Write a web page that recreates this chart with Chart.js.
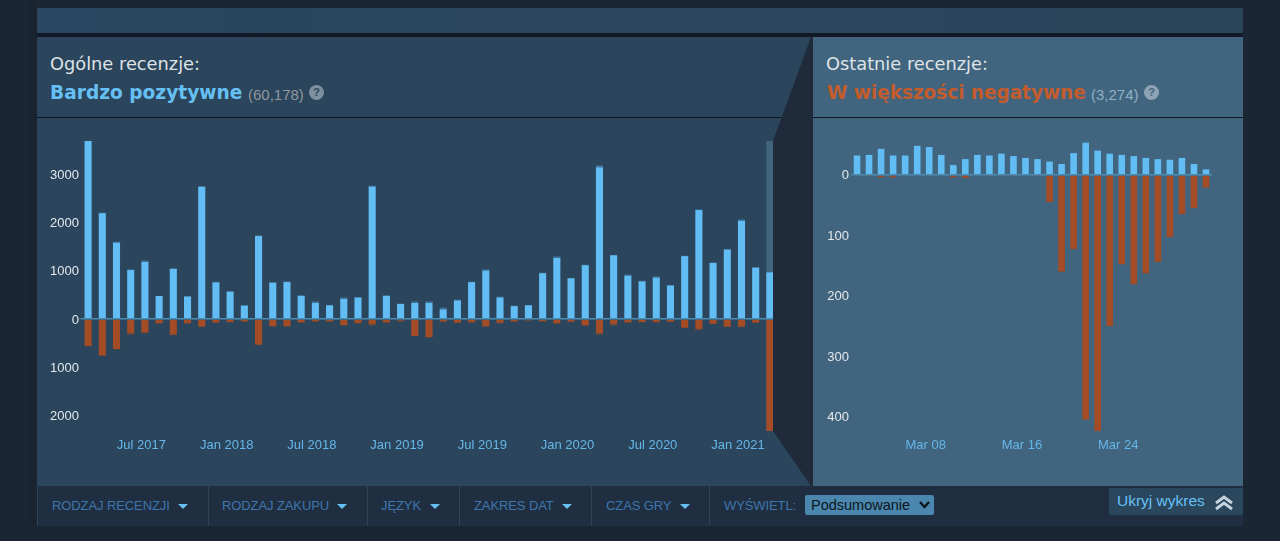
<!DOCTYPE html>
<html lang="pl"><head><meta charset="utf-8">
<script src="https://cdn.jsdelivr.net/npm/chart.js@4"></script>
<style>
html,body{margin:0;padding:0;width:1280px;height:541px;overflow:hidden;background:#1b2635;font-family:"Liberation Sans",Arial,sans-serif}
.abs{position:absolute}
#strip{left:37px;top:8px;width:1206px;height:25px;background:linear-gradient(to right,#2a4660,#2b455b)}
#gap{left:37px;top:33px;width:1206px;height:4px;background:#111a26}
#leftP{left:37px;top:37px;width:776px;height:449px;background:#2b455c}
#rightP{left:813px;top:37px;width:430px;height:449px;background:#41647f}
#side{left:30px;top:0;width:7px;height:526px;background:#1a2330}
.rule{height:1px;background:#0e1720;top:117px}
canvas{position:absolute}
#trap{left:773px;top:37px;z-index:5}
.h1{font:17.8px "DejaVu Sans";color:#dfe3e6;top:53px;z-index:6;white-space:nowrap}
.h2{font:bold 18.6px "DejaVu Sans";top:82px;z-index:6;white-space:nowrap}
.cnt{font:15px "Liberation Sans";top:86px;white-space:nowrap;z-index:6}
.q{width:15px;height:15px;border-radius:50%;background:#7f8f9d;color:#2b455c;font:bold 11px/15px "Liberation Sans";text-align:center;top:85px;z-index:6}
#bar{left:37px;top:486px;width:1206px;height:40px;background:#1f2e40}
.sep{position:absolute;top:0;width:1px;height:40px;background:#2e4558}
.f{position:absolute;top:12px;font:13px "Liberation Sans";color:#3f76ad;white-space:nowrap;letter-spacing:-.1px}
.tri{position:absolute;top:18px;width:0;height:0;border-left:5px solid transparent;border-right:5px solid transparent;border-top:5px solid #66c0f4}
#sel{left:805px;top:495px;width:129px;height:20px;background:#4a86ad;border-radius:2px;color:#0d1620;font:14.5px/20px "Liberation Sans";z-index:6}
#sel span{position:absolute;left:6px;top:0;width:100px;overflow:hidden;white-space:nowrap}
#hide{left:1109px;top:488px;width:134px;height:27px;background:#2a475e;z-index:6;border-radius:0 0 2px 2px}
#hide span{position:absolute;left:8px;top:4px;font:15.5px "Liberation Sans";color:#66c0f4;white-space:nowrap}
</style></head><body>
<div class="abs" id="side"></div>
<div class="abs" id="strip"></div><div class="abs" id="gap"></div>
<div class="abs" id="leftP"></div><div class="abs" id="rightP"></div>
<div class="abs rule" style="left:37px;width:776px"></div>
<div class="abs rule" style="left:813px;width:430px"></div>
<canvas id="c1" style="left:37px;top:118px;width:776px;height:368px;z-index:2"></canvas>
<canvas id="c2" style="left:813px;top:118px;width:430px;height:368px;z-index:2"></canvas>
<svg class="abs" id="trap" width="40" height="449"><polygon points="0,104 38,0 40,0 40,449 38,449 0,394" fill="#1f2a3a"/></svg>

<div class="abs h1" style="left:50px">Ogólne recenzje:</div>
<div class="abs h2" style="left:50px;color:#66c0f4">Bardzo pozytywne</div>
<div class="abs cnt" style="left:248px;color:#8f98a0">(60,178)</div>
<div class="abs q" style="left:309px">?</div>
<div class="abs h1" style="left:826px">Ostatnie recenzje:</div>
<div class="abs h2" style="left:827px;color:#c35c2c;letter-spacing:-.1px">W większości negatywne</div>
<div class="abs cnt" style="left:1091px;color:#8fb0c8">(3,274)</div>
<div class="abs q" style="left:1144px;background:#8ea4b6;color:#41647f">?</div>

<div class="abs" id="bar">
 <div class="sep" style="left:0"></div><div class="f" style="left:15px">RODZAJ RECENZJI</div><div class="tri" style="left:141px"></div>
 <div class="sep" style="left:171px"></div><div class="f" style="left:185px">RODZAJ ZAKUPU</div><div class="tri" style="left:300px"></div>
 <div class="sep" style="left:330px"></div><div class="f" style="left:344px">JĘZYK</div><div class="tri" style="left:393px"></div>
 <div class="sep" style="left:422px"></div><div class="f" style="left:437px">ZAKRES DAT</div><div class="tri" style="left:525px"></div>
 <div class="sep" style="left:554px"></div><div class="f" style="left:569px">CZAS GRY</div><div class="tri" style="left:643px"></div>
 <div class="sep" style="left:672px"></div><div class="f" style="left:687px">WYŚWIETL:</div>
</div>
<div class="abs" id="sel"><span>Podsumowanie</span>
 <svg style="position:absolute;right:4px;top:6px" width="11" height="8"><path d="M1 1 L5.5 6 L10 1" fill="none" stroke="#0d1620" stroke-width="2.4"/></svg></div>
<div class="abs" id="hide"><span>Ukryj wykres</span>
 <svg style="position:absolute;left:105px;top:7px" width="20" height="16"><path d="M2 8 L10 2 L18 8 M2 14 L10 8 L18 14" fill="none" stroke="#c5d3dd" stroke-width="3"/></svg></div>

<script>
const monthLabels=["Mar 2017","Apr 2017","May 2017","Jun 2017","Jul 2017","Aug 2017","Sep 2017","Oct 2017","Nov 2017","Dec 2017","Jan 2018","Feb 2018","Mar 2018","Apr 2018","May 2018","Jun 2018","Jul 2018","Aug 2018","Sep 2018","Oct 2018","Nov 2018","Dec 2018","Jan 2019","Feb 2019","Mar 2019","Apr 2019","May 2019","Jun 2019","Jul 2019","Aug 2019","Sep 2019","Oct 2019","Nov 2019","Dec 2019","Jan 2020","Feb 2020","Mar 2020","Apr 2020","May 2020","Jun 2020","Jul 2020","Aug 2020","Sep 2020","Oct 2020","Nov 2020","Dec 2020","Jan 2021","Feb 2021","Mar 2021"];
const monthTicks=["Jul 2017","Jan 2018","Jul 2018","Jan 2019","Jul 2019","Jan 2020","Jul 2020","Jan 2021"];
const monthYTicks=[3000,2000,1000,0,-1000,-2000];
const monthUp=[3693,2196,1584,1015,1182,477,1041,467,2744,760,566,279,1721,753,766,481,332,285,415,446,2751,481,313,332,332,200,386,765,1005,448,267,285,951,1265,846,1117,3148,1323,900,780,860,695,1304,2260,1161,1442,2038,1064,968];
const monthUpOther=[0,10,20,15,35,0,10,10,15,15,15,5,15,15,15,10,35,5,35,10,15,10,5,35,35,35,15,10,25,15,10,5,10,35,5,10,40,5,20,15,25,10,10,15,15,10,30,15,0];
const monthDown=[-560,-761,-624,-300,-282,-90,-327,-87,-161,-73,-64,-50,-534,-149,-149,-71,-50,-50,-128,-85,-108,-71,-35,-353,-380,-52,-78,-66,-154,-80,-52,-21,-45,-92,-57,-133,-300,-108,-71,-64,-64,-57,-182,-205,-99,-161,-161,-78,-2324];
const monthDownOther=[0,0,-5,-25,-15,0,-5,-10,-5,-10,-5,-5,-5,-10,-10,-5,-5,-5,-10,-5,-30,-5,-20,0,0,-10,-5,-10,-5,-10,-10,-20,-10,-5,-5,-5,-25,-30,-5,-5,-5,-5,-5,-30,-5,-5,-5,-5,0];
const dayLabels=["Mar 02","Mar 03","Mar 04","Mar 05","Mar 06","Mar 07","Mar 08","Mar 09","Mar 10","Mar 11","Mar 12","Mar 13","Mar 14","Mar 15","Mar 16","Mar 17","Mar 18","Mar 19","Mar 20","Mar 21","Mar 22","Mar 23","Mar 24","Mar 25","Mar 26","Mar 27","Mar 28","Mar 29","Mar 30","Mar 31"];
const dayTicks=["Mar 08","Mar 16","Mar 24"];
const dayYTicks=[0,-100,-200,-300,-400];
const dayUp=[32,33,43,32,32,48,46,33,16,26,33,32,35,31,28,26,22,18,36,53,40,35,33,31,28,26,25,28,18,9];
const dayUpOther=[0,0,0,0,0,0,0,0,2,1,0,0,1,0,0,0,0,0,0,3,1,0,0,0,0,0,0,0,0,0];
const dayDown=[-1,-2,-4,-4,-1,-1,-2,-1,-4,-5,-1,-2,-2,-2,0,-2,-45,-160,-123,-405,-424,-250,-148,-181,-163,-144,-103,-65,-55,-21];
const dayDownOther=[0,0,0,0,0,0,0,0,0,0,0,0,0,0,0,0,0,-1,0,0,0,0,0,0,0,0,0,0,0,0];

const BLUE='#62bdf5',BLUE2='#3f7096',RUST='#a34c25',RUST2='#5f4a44';
const selection={id:'selection',beforeDatasetsDraw(ch,a,o){
  if(!o.on)return;
  const el=ch.getDatasetMeta(0).data.at(-1),s=ch.scales.y,c=ch.ctx;
  c.save();c.fillStyle='#41647f';
  c.fillRect(el.x-el.width/2,s.top,el.width,s.bottom-s.top);c.restore();
}};
function make(id,labels,shown,yTicks,up,upO,down,downO,pct,yW,padR,sel){
  const top=Math.max(...up.map((v,i)=>v+upO[i])),bot=Math.min(...down.map((v,i)=>v+downO[i]));
  const ds=(data,color)=>({data,backgroundColor:color,stack:'a',barPercentage:pct,categoryPercentage:1,borderWidth:0});
  return new Chart(document.getElementById(id),{type:'bar',
    data:{labels,datasets:[ds(up,BLUE),ds(upO,BLUE2),ds(down,RUST),ds(downO,RUST2)]},
    plugins:[selection],
    options:{responsive:false,animation:false,devicePixelRatio:1,
      layout:{padding:{top:23,right:padR,left:0,bottom:0}},
      plugins:{legend:{display:false},tooltip:{enabled:false},selection:{on:sel}},
      scales:{
        x:{stacked:true,grid:{display:false},border:{display:false},
           afterFit(s){s.height=55},
           ticks:{autoSkip:false,maxRotation:0,minRotation:0,color:'#66b7ea',font:{family:'"Liberation Sans"',size:13},padding:-1,labelOffset:-3.5,
             callback(v){const l=this.getLabelForValue(v);return shown.includes(l)?l:''}}},
        y:{stacked:true,min:bot,max:top,border:{display:false},
           afterFit(s){s.width=yW},
           afterBuildTicks(s){s.ticks=yTicks.map(value=>({value}))},
           grid:{z:1,tickLength:2,drawOnChartArea:true,
             color:c=>c.tick&&c.tick.value===0?'#4a8db4':'rgba(0,0,0,0)',
             tickColor:'#4a6a80',lineWidth:c=>c.tick&&c.tick.value===0?1.5:0},
           ticks:{autoSkip:false,color:'#e4e8ea',font:{family:'"Liberation Sans"',size:13},padding:0,labelOffset:1,
             callback:v=>String(Math.abs(v))}}
      }}});
}
for(const [id,w] of [['c1',776],['c2',430]]){const e=document.getElementById(id);e.width=w;e.height=368;}
make('c1',monthLabels,monthTicks,monthYTicks,monthUp,monthUpOther,monthDown,monthDownOther,.5,44,36,true);
make('c2',dayLabels,dayTicks,dayYTicks,dayUp,dayUpOther,dayDown,dayDownOther,.55,38,31,false);
</script>
</body></html>
